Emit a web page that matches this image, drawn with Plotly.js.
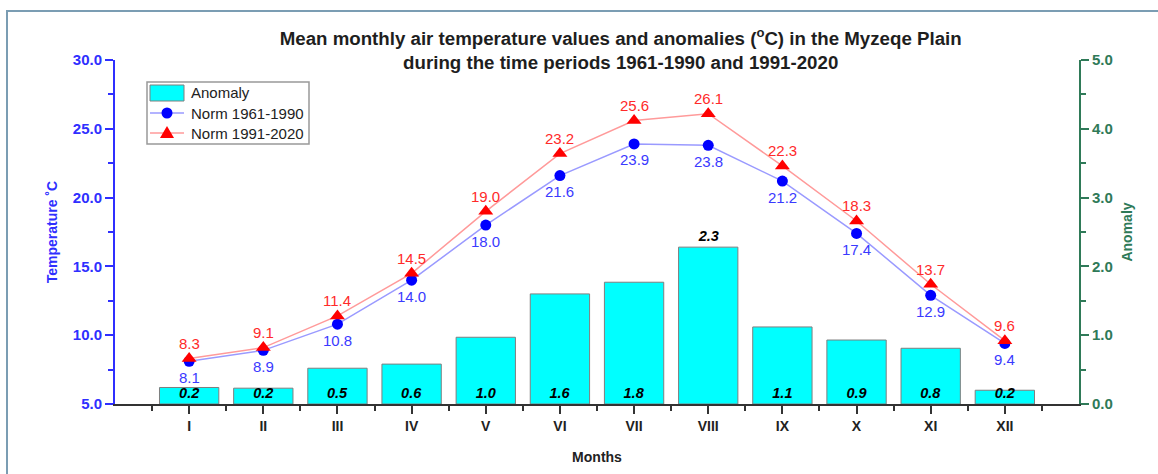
<!DOCTYPE html>
<html><head><meta charset="utf-8">
<script src="https://cdn.plot.ly/plotly-3.0.1.min.js"></script>
<style>
body{margin:0;padding:0;background:#fff;}
#wrap{position:relative;width:1158px;height:474px;}
#chart{position:absolute;left:0;top:0;width:1158px;height:474px;}
#frame{position:absolute;left:6px;top:10px;width:1160px;height:480px;border:2px solid #7b9db3;pointer-events:none;}
</style>
</head><body>
<div id="wrap"><div id="chart"></div><div id="frame"></div></div>
<script>
const months = ['I','II','III','IV','V','VI','VII','VIII','IX','X','XI','XII'];
const monthPos = [1,2,3,4,5,6,7,8,9,10,11,12];
const seriesNames = ['Anomaly','Norm 1961-1990','Norm 1991-2020'];
const norm6190 = [8.1, 8.9, 10.8, 14.0, 18.0, 21.6, 23.9, 23.8, 21.2, 17.4, 12.9, 9.4];
const norm9120 = [8.3, 9.1, 11.4, 14.5, 19.0, 23.2, 25.6, 26.1, 22.3, 18.3, 13.7, 9.6];
const anomaly = [0.24, 0.23, 0.52, 0.58, 0.97, 1.6, 1.77, 2.28, 1.12, 0.93, 0.81, 0.2];
const anomalyLabels = ['0.2','0.2','0.5','0.6','1.0','1.6','1.8','2.3','1.1','0.9','0.8','0.2'];

const FONT = 'Arial, "Liberation Sans", sans-serif';
const BLUE = '#2f2fff';
const GREEN = '#2f7a58';
const BAR = '#00ffff', BAREDGE = '#7f7f7f';
const L1 = '#9a9aff', M1 = '#0000ff', L2 = '#ff9a9a', M2 = '#ff0000';

const traces = [
  {
    type:'bar', name:seriesNames[0], x:monthPos, y:anomaly, yaxis:'y2', width:0.8,
    marker:{color:BAR, line:{color:BAREDGE, width:1}},
    text:anomalyLabels,
    textposition: anomalyLabels.map((v,i)=> i===7 ? 'outside' : 'inside'),
    insidetextanchor:'start', constraintext:'none', cliponaxis:false,
    textfont:{family:FONT, size:14.5, color:'#000', weight:'bold', style:'italic'},
    outsidetextfont:{family:FONT, size:14.5, color:'#000', weight:'bold', style:'italic'},
    insidetextfont:{family:FONT, size:14.5, color:'#000', weight:'bold', style:'italic'},
    hoverinfo:'skip', showlegend:false
  },
  {
    type:'scatter', mode:'lines+markers', name:seriesNames[1], x:monthPos, y:norm6190,
    line:{color:L1, width:1.5},
    marker:{color:M1, size:11, symbol:'circle'}, showlegend:false
  },
  {
    type:'scatter', mode:'lines+markers', name:seriesNames[2], x:monthPos, y:norm9120,
    line:{color:L2, width:1.5},
    marker:{color:M2, size:13, symbol:'triangle-up'}, showlegend:false
  }
];

const annotations = [];
monthPos.forEach((m,i)=>{
  annotations.push({x:m, y:norm6190[i], xref:'x', yref:'y', text:norm6190[i].toFixed(1),
    showarrow:false, yshift:-16, xanchor:'center', yanchor:'middle',
    font:{family:FONT, size:15, color:'#3a3aff'}});
  annotations.push({x:m, y:norm9120[i], xref:'x', yref:'y', text:norm9120[i].toFixed(1),
    showarrow:false, yshift:15, xanchor:'center', yanchor:'middle',
    font:{family:FONT, size:15, color:'#ff2a2a'}});
});

// Legend drawn by hand (plot area: 115..1079 px wide, 60..404 px tall)
const PL = 115, PW = 964, PB = 404, PH = 344;
const px = v => (v - PL) / PW;
const py = v => (PB - v) / PH;
const shapes = [];
const LX0 = 147, LX1 = 309, LY0 = 82, LY1 = 144;
const rowY = [93, 113, 133];
shapes.push({type:'rect', xref:'paper', yref:'paper', x0:px(LX0), x1:px(LX1), y0:py(LY1), y1:py(LY0),
  fillcolor:'#fff', line:{color:'#999', width:1.5}, layer:'above'});
shapes.push({type:'rect', xref:'paper', yref:'paper', x0:px(150), x1:px(184), y0:py(rowY[0]+8), y1:py(rowY[0]-8),
  fillcolor:BAR, line:{color:BAREDGE, width:1}, layer:'above'});
shapes.push({type:'line', xref:'paper', yref:'paper', x0:px(150), x1:px(184), y0:py(rowY[1]), y1:py(rowY[1]),
  line:{color:L1, width:1.5}, layer:'above'});
shapes.push({type:'circle', xref:'paper', yref:'paper', xsizemode:'pixel', ysizemode:'pixel',
  xanchor:px(167), yanchor:py(rowY[1]), x0:-5.5, x1:5.5, y0:-5.5, y1:5.5,
  fillcolor:M1, line:{color:M1, width:0}, layer:'above'});
shapes.push({type:'line', xref:'paper', yref:'paper', x0:px(150), x1:px(184), y0:py(rowY[2]), y1:py(rowY[2]),
  line:{color:L2, width:1.5}, layer:'above'});
shapes.push({type:'path', xref:'paper', yref:'paper', xsizemode:'pixel', ysizemode:'pixel',
  xanchor:px(167), yanchor:py(rowY[2]), path:'M -7 -5 L 7 -5 L 0 7 Z',
  fillcolor:M2, line:{color:M2, width:0}, layer:'above'});
seriesNames.forEach((n,i)=>{
  annotations.push({xref:'paper', yref:'paper', x:px(189), y:py(rowY[i]), text:n, showarrow:false,
    xanchor:'left', yanchor:'middle', font:{family:FONT, size:15, color:'#222'}});
});

const layout = {
  width:1158, height:474,
  margin:{l:115, r:79, t:60, b:70},
  paper_bgcolor:'#fff', plot_bgcolor:'#fff',
  font:{family:FONT},
  showlegend:false,
  annotations: annotations,
  shapes: shapes,
  title:{
    text:'<b>Mean monthly air temperature values and anomalies (<sup>o</sup>C) in the Myzeqe Plain<br>during the time periods 1961-1990 and 1991-2020</b>',
    font:{family:FONT, size:18.7, color:'#1e1e1e'},
    x:0.536, xanchor:'center', xref:'container',
    y:0.905, yanchor:'top', yref:'container'
  },
  xaxis:{
    range:[0,13], tickmode:'array', tickvals:monthPos, ticktext:months,
    showgrid:false, zeroline:false, showline:true, linecolor:'#333', linewidth:2,
    ticks:'outside', ticklen:8, tickwidth:2, tickcolor:'#333',
    tickfont:{family:FONT, size:14, color:'#222', weight:'bold'},
    minor:{tickmode:'linear', tick0:0.5, dtick:1, ticks:'outside', ticklen:5, tickwidth:2, tickcolor:'#333'},
    title:{text:'<b>Months</b>', font:{family:FONT, size:14, color:'#222'}, standoff:19}
  },
  yaxis:{
    range:[5,30], dtick:5, tickformat:'.1f',
    showgrid:false, zeroline:false, showline:true, linecolor:BLUE, linewidth:2,
    ticks:'outside', ticklen:8, tickwidth:2, tickcolor:BLUE,
    tickfont:{family:FONT, size:15, color:BLUE, weight:'bold'},
    minor:{dtick:2.5, ticks:'outside', ticklen:5, tickwidth:2, tickcolor:BLUE},
    title:{text:'<b>Temperature ˚C</b>', font:{family:FONT, size:14, color:BLUE}, standoff:12}
  },
  yaxis2:{
    range:[0,5], dtick:1, tickformat:'.1f', overlaying:'y', side:'right',
    showgrid:false, zeroline:false, showline:true, linecolor:GREEN, linewidth:2,
    ticks:'outside', ticklen:8, tickwidth:2, tickcolor:GREEN,
    tickfont:{family:FONT, size:15, color:GREEN, weight:'bold'},
    minor:{dtick:0.5, ticks:'outside', ticklen:5, tickwidth:2, tickcolor:GREEN},
    title:{text:'<b>Anomaly</b>', font:{family:FONT, size:14, color:GREEN}, standoff:10}
  },
  bargap:0.2
};

Plotly.newPlot('chart', traces, layout, {displayModeBar:false, staticPlot:true});
</script>
</body></html>
